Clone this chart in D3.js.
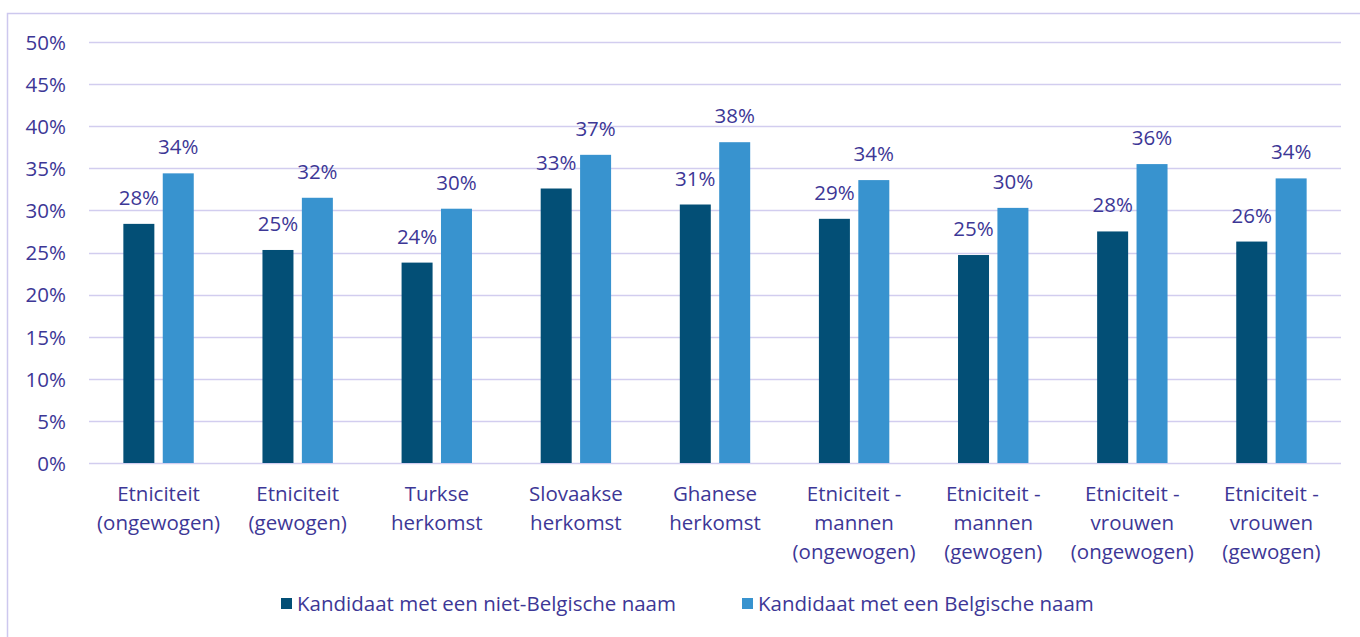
<!DOCTYPE html>
<html>
<head>
<meta charset="utf-8">
<script src="https://cdn.jsdelivr.net/npm/d3@7"></script>
<style>
  body { margin: 0; background: #fff; }
  svg text { font-family: "Open Sans", Lato, sans-serif; fill: #3d3796; }
</style>
</head>
<body>
<svg id="chart" width="1360" height="637"></svg>
<script>
// chart data
var categories = [
  ['Etniciteit', '(ongewogen)'],
  ['Etniciteit', '(gewogen)'],
  ['Turkse', 'herkomst'],
  ['Slovaakse', 'herkomst'],
  ['Ghanese', 'herkomst'],
  ['Etniciteit -', 'mannen', '(ongewogen)'],
  ['Etniciteit -', 'mannen', '(gewogen)'],
  ['Etniciteit -', 'vrouwen', '(ongewogen)'],
  ['Etniciteit -', 'vrouwen', '(gewogen)']
]
var seriesNames = ['Kandidaat met een niet-Belgische naam', 'Kandidaat met een Belgische naam']
var nietBelgisch = [28.4, 25.3, 23.8, 32.6, 30.7, 29.0, 24.7, 27.5, 26.3]
var belgisch = [34.4, 31.5, 30.2, 36.6, 38.1, 33.6, 30.3, 35.5, 33.8]
var yTicks = [0, 5, 10, 15, 20, 25, 30, 35, 40, 45, 50]

var colors = ['#034f76', '#3893cf']
var fontSize = '20.5px'
var svg = d3.select('#chart')

// outer frame
svg.append('rect')
  .attr('x', 7.5).attr('y', 13.5)
  .attr('width', 1400).attr('height', 700)
  .attr('fill', 'none')
  .attr('stroke', '#cdc8ee').attr('stroke-width', 1.5)

var plotLeft = 89, plotRight = 1341, plotTop = 42, plotBottom = 463

var x = d3.scaleBand().domain(d3.range(categories.length)).range([plotLeft, plotRight])
var y = d3.scaleLinear().domain([0, 50]).range([plotBottom, plotTop])

// grid lines
svg.append('g')
  .selectAll('line')
  .data(yTicks)
  .join('line')
  .attr('x1', plotLeft).attr('x2', plotRight)
  .attr('y1', d => Math.round(y(d)) + 0.5)
  .attr('y2', d => Math.round(y(d)) + 0.5)
  .attr('stroke', '#d2cdef').attr('stroke-width', 1.6)

// y axis labels
var yAxis = svg.append('g')
  .attr('transform', 'translate(' + (plotLeft - 23) + ',0)')
  .call(d3.axisLeft(y).tickValues(yTicks).tickSize(0).tickPadding(0).tickFormat(d => d + '%'))
yAxis.select('.domain').remove()
yAxis.selectAll('text')
  .attr('fill', null)
  .style('font-size', fontSize)
  .style('font-family', '"Open Sans", sans-serif')
  .attr('dy', '0.36em')

var barW = 31, offset = 19.7
var series = [nietBelgisch, belgisch]

series.forEach(function (vals, si) {
  var cx = i => x(i) + x.bandwidth() / 2 + (si === 0 ? -offset : offset)
  svg.append('g')
    .selectAll('rect')
    .data(vals)
    .join('rect')
    .attr('x', (d, i) => cx(i) - barW / 2)
    .attr('width', barW)
    .attr('y', d => y(d))
    .attr('height', d => y(0) - y(d))
    .attr('fill', colors[si])

  svg.append('g')
    .selectAll('text')
    .data(vals)
    .join('text')
    .attr('x', (d, i) => cx(i))
    .attr('y', d => y(d) - 19)
    .attr('text-anchor', 'middle')
    .style('font-size', fontSize)
    .text(d => Math.round(d) + '%')
})

// category labels
var catG = svg.append('g')
categories.forEach(function (lines, i) {
  var t = catG.append('text')
    .attr('text-anchor', 'middle')
    .style('font-size', fontSize)
  lines.forEach(function (ln, j) {
    t.append('tspan')
      .attr('x', x(i) + x.bandwidth() / 2)
      .attr('y', 501 + j * 29)
      .text(ln)
  })
})

// legend
var legendX = [281, 742]
seriesNames.forEach(function (name, si) {
  svg.append('rect')
    .attr('x', legendX[si]).attr('y', 598)
    .attr('width', 11).attr('height', 11)
    .attr('fill', colors[si])
  svg.append('text')
    .attr('x', legendX[si] + 16).attr('y', 611)
    .style('font-size', fontSize)
    .text(name)
})
</script>
</body>
</html>
